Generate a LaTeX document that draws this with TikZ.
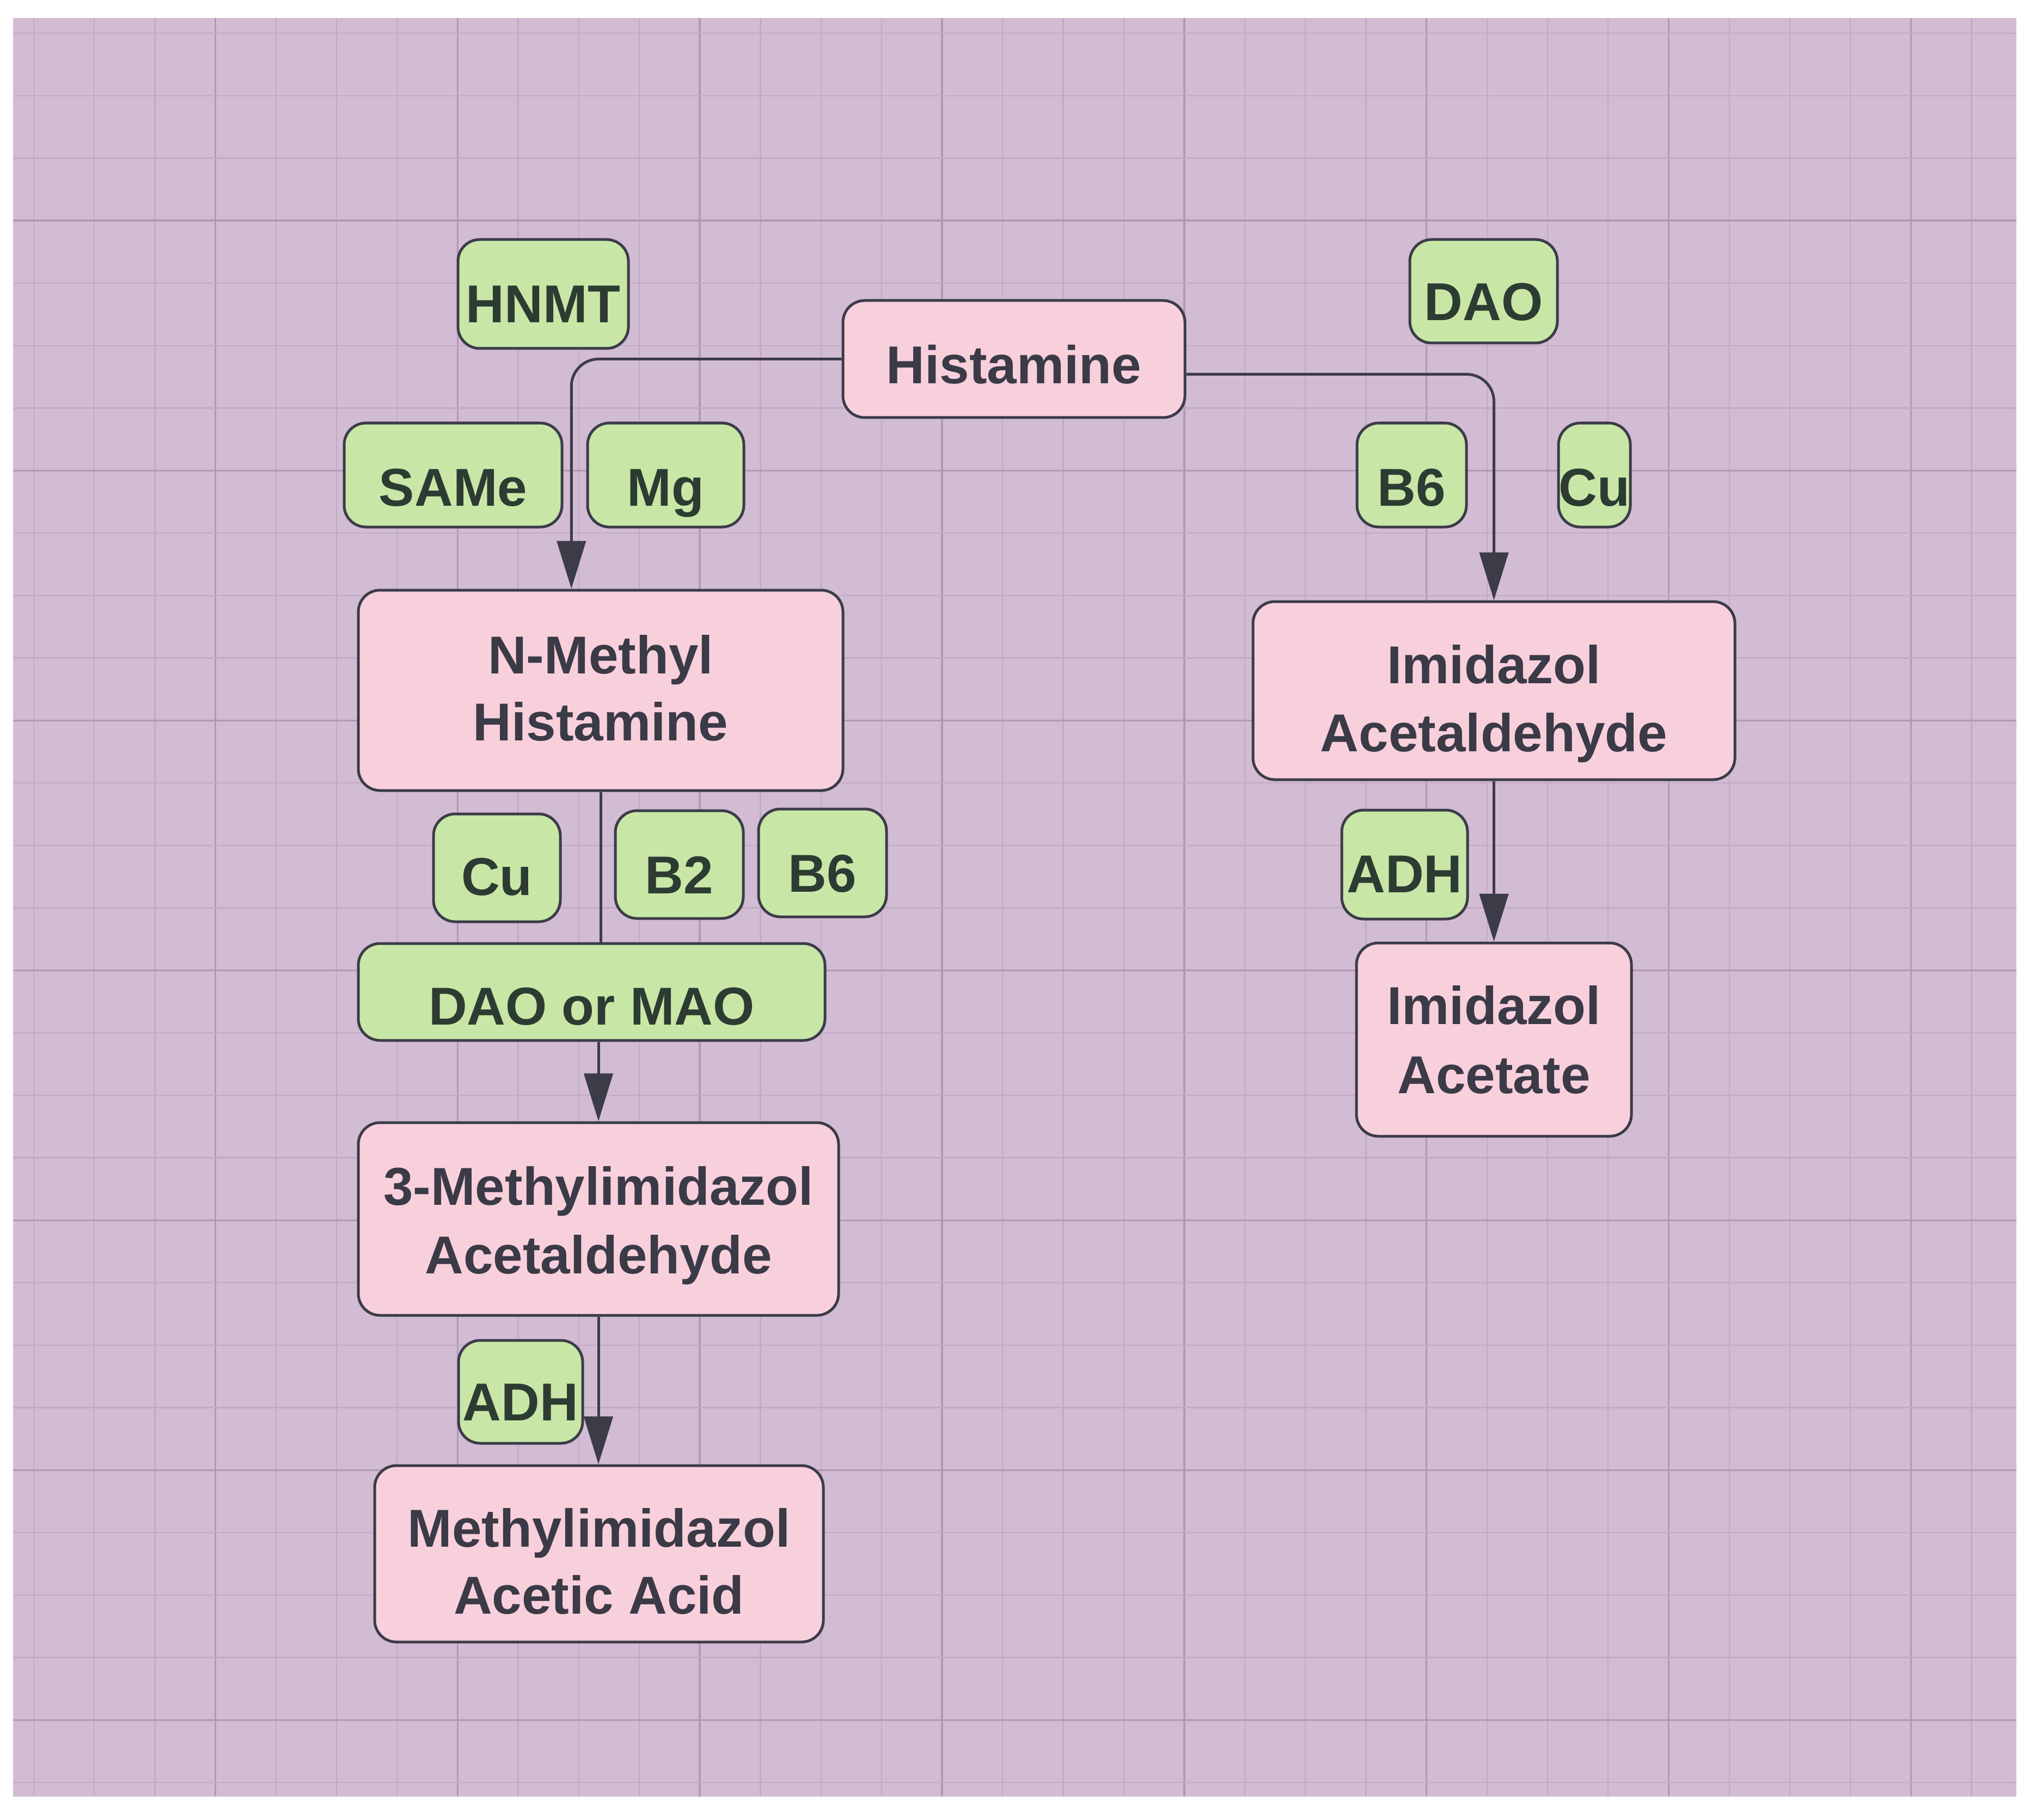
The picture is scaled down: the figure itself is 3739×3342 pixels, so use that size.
\documentclass[tikz,border=0pt]{standalone}
\usepackage{fontspec}
\setmainfont{Liberation Sans}
\usetikzlibrary{fit,arrows.meta,calc}
\definecolor{bgpurple}{HTML}{D2BCD3}
\definecolor{gridminor}{HTML}{C2AAC4}
\definecolor{gridmajor}{HTML}{B199B3}
\definecolor{pinkfill}{HTML}{F8D0DC}
\definecolor{greenfill}{HTML}{C8E7A7}
\definecolor{edgecol}{HTML}{3C3C49}
\definecolor{pinktext}{HTML}{3B3A47}
\definecolor{greentext}{HTML}{2D3C32}
\begin{document}
\begin{tikzpicture}[x=0.2pt,y=-0.2pt,
  box/.style={draw=edgecol, line width=1pt, rounded corners=8pt, inner sep=0pt},
  pinkbox/.style={box, fill=pinkfill},
  greenbox/.style={box, fill=greenfill},
  lbl/.style={anchor=base, inner sep=0pt, font=\bfseries\fontsize{19.6pt}{24pt}\selectfont},
  pinklabel/.style={lbl, text=pinktext},
  greenlabel/.style={lbl, text=greentext},
  flow/.style={draw=edgecol, line width=1pt},
  arrowflow/.style={flow, -{Triangle[length=17.6pt,width=10.6pt]}},
]
\useasboundingbox (0,0) rectangle (3739,3342);
\fill[white] (0,0) rectangle (3739,3342);
\fill[bgpurple] (24,33) rectangle (3703,3300);
% grid
\foreach \n in {0,...,32}{
  \pgfmathsetmacro{\gx}{62+111.2*\n}
  \pgfmathtruncatemacro{\ismaj}{mod(\n+1,4)==0}
  \ifnum\ismaj=1
    \draw[gridmajor, line width=0.7pt] (\gx,33) -- (\gx,3300);
  \else
    \draw[gridminor, line width=0.45pt] (\gx,33) -- (\gx,3300);
  \fi
}
\foreach \m in {0,...,28}{
  \pgfmathsetmacro{\gy}{61+114.75*\m}
  \pgfmathtruncatemacro{\ismaj}{mod(\m+1,4)==0}
  \ifnum\ismaj=1
    \draw[gridmajor, line width=0.7pt] (24,\gy) -- (3703,\gy);
  \else
    \draw[gridminor, line width=0.45pt] (24,\gy) -- (3703,\gy);
  \fi
}

% pink boxes
\node[pinkbox, fit={(1548,552) (2176,767)}] (Histamine) {};
\node[pinkbox, fit={(658,1084) (1548,1452)}] (NMethyl) {};
\node[pinkbox, fit={(658,2062) (1540,2416)}] (ThreeMethyl) {};
\node[pinkbox, fit={(688,2692) (1512,3016)}] (MIAA) {};
\node[pinkbox, fit={(2301,1105) (3186,1432)}] (ImAcetald) {};
\node[pinkbox, fit={(2491,1732) (2996,2087)}] (ImAcetate) {};

% green boxes
\node[greenbox, fit={(841,440) (1154,640)}] (HNMT) {};
\node[greenbox, fit={(632,777) (1032,968)}] (SAMe) {};
\node[greenbox, fit={(1079,777) (1366,968)}] (Mg) {};
\node[greenbox, fit={(2589,440) (2860,630)}] (DAO) {};
\node[greenbox, fit={(2492,777) (2693,968)}] (BsixR) {};
\node[greenbox, fit={(2862,777) (2994,968)}] (CuR) {};
\node[greenbox, fit={(796,1495) (1029,1693)}] (CuL) {};
\node[greenbox, fit={(1130,1489) (1365,1687)}] (Btwo) {};
\node[greenbox, fit={(1393,1486) (1628,1684)}] (BsixL) {};
\node[greenbox, fit={(658,1733) (1515,1911)}] (DAOMAO) {};
\node[greenbox, fit={(842,2462) (1070,2651)}] (ADHL) {};
\node[greenbox, fit={(2464,1488) (2695,1688)}] (ADHR) {};

% pink labels
\node[pinklabel] (tHist) at (Histamine.center |- 0,705) {Histamine};
\node[pinklabel] (tNM1) at (NMethyl.center |- 0,1237) {N-Methyl};
\node[pinklabel] (tNM2) at (NMethyl.center |- 0,1360) {Histamine};
\node[pinklabel] (tTM1) at (ThreeMethyl.center |- 0,2213) {3-Methylimidazol};
\node[pinklabel] (tTM2) at (ThreeMethyl.center |- 0,2339) {Acetaldehyde};
\node[pinklabel] (tMI1) at (MIAA.center |- 0,2841) {Methylimidazol};
\node[pinklabel] (tMI2) at (MIAA.center |- 0,2964) {Acetic Acid};
\node[pinklabel] (tIA1) at (ImAcetald.center |- 0,1255) {Imidazol};
\node[pinklabel] (tIA2) at (ImAcetald.center |- 0,1380) {Acetaldehyde};
\node[pinklabel] (tIT1) at (ImAcetate.center |- 0,1881) {Imidazol};
\node[pinklabel] (tIT2) at (ImAcetate.center |- 0,2008) {Acetate};

% green labels
\node[greenlabel] (tHNMT) at (HNMT.center |- 0,593) {HNMT};
\node[greenlabel] (tSAMe) at (SAMe.center |- 0,929) {SAMe};
\node[greenlabel] (tMg) at (Mg.center |- 0,929) {Mg};
\node[greenlabel] (tDAO) at (DAO.center |- 0,589) {DAO};
\node[greenlabel] (tBsixR) at (BsixR.center |- 0,929) {B6};
\node[greenlabel] (tCuR) at (CuR.center |- 0,929) {Cu};
\node[greenlabel] (tCuL) at (CuL.center |- 0,1644) {Cu};
\node[greenlabel] (tBtwo) at (Btwo.center |- 0,1641) {B2};
\node[greenlabel] (tBsixL) at (BsixL.center |- 0,1638) {B6};
\node[greenlabel] (tDAOMAO) at (DAOMAO.center |- 0,1882) {DAO or MAO};
\node[greenlabel] (tADHL) at (ADHL.center |- 0,2609) {ADH};
\node[greenlabel] (tADHR) at (ADHR.center |- 0,1639) {ADH};

% connectors
\draw[arrowflow, rounded corners=10pt] (Histamine.west) -| ($(NMethyl.north west)!0.44!(NMethyl.north east)$);
\draw[arrowflow, rounded corners=10pt] ($(Histamine.east)+(0,28)$) -| (ImAcetald.north);
\draw[flow] (NMethyl.south) -- (NMethyl.south |- DAOMAO.north);
\draw[arrowflow] (DAOMAO.south -| ThreeMethyl.north) -- (ThreeMethyl.north);
\draw[arrowflow] (ThreeMethyl.south) -- (ThreeMethyl.south |- MIAA.north);
\draw[arrowflow] (ImAcetald.south) -- (ImAcetald.south |- ImAcetate.north);
\end{tikzpicture}
\end{document}
